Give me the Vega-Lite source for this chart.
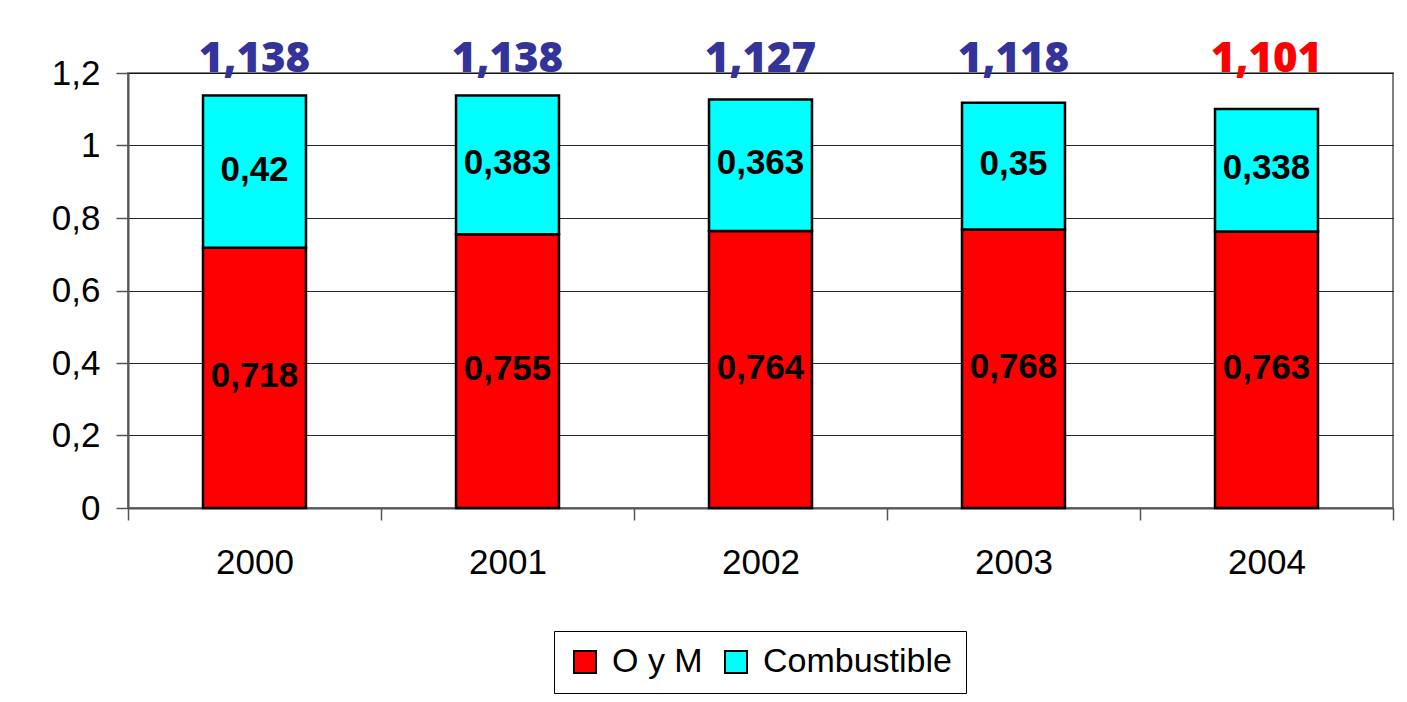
{
  "$schema": "https://vega.github.io/schema/vega-lite/v6.json",
  "width": 1265,
  "height": 435,
  "autosize": {"type": "none"},
  "padding": {"left": 128, "top": 73, "right": 14, "bottom": 194},
  "background": "white",
  "config": {
    "locale": {"number": {"decimal": ",", "thousands": ".", "grouping": [3], "currency": ["", " €"]}},
    "view": {"stroke": "#808080", "strokeWidth": 2},
    "font": "Liberation Sans"
  },
  "data": {
    "values": [
      {"year": "2000", "series": "O y M", "value": 0.718},
      {"year": "2000", "series": "Combustible", "value": 0.42},
      {"year": "2001", "series": "O y M", "value": 0.755},
      {"year": "2001", "series": "Combustible", "value": 0.383},
      {"year": "2002", "series": "O y M", "value": 0.764},
      {"year": "2002", "series": "Combustible", "value": 0.363},
      {"year": "2003", "series": "O y M", "value": 0.768},
      {"year": "2003", "series": "Combustible", "value": 0.35},
      {"year": "2004", "series": "O y M", "value": 0.763},
      {"year": "2004", "series": "Combustible", "value": 0.338}
    ]
  },
  "encoding": {
    "x": {
      "field": "year",
      "type": "ordinal",
      "scale": {"paddingInner": 0, "paddingOuter": 0},
      "axis": {
        "title": null,
        "labelAngle": 0,
        "labelFontSize": 35,
        "labelColor": "black",
        "labelFont": "Liberation Sans",
        "tickBand": "extent",
        "tickSize": 12,
        "tickColor": "#555555",
        "tickWidth": 1.5,
        "domainColor": "#555555",
        "domainWidth": 2,
        "labelPadding": 25
      }
    }
  },
  "layer": [
    {
      "mark": {"type": "bar", "stroke": "black", "strokeWidth": 2.5, "width": {"band": 0.407}},
      "encoding": {
        "y": {
          "field": "value",
          "type": "quantitative",
          "stack": "zero",
          "scale": {"domain": [0, 1.2], "nice": false},
          "axis": {
            "title": null,
            "values": [0, 0.2, 0.4, 0.6, 0.8, 1, 1.2],
            "format": "~g",
            "labelFontSize": 35,
            "labelColor": "black",
            "labelFont": "Liberation Sans",
            "tickSize": 12,
            "tickColor": "#555555",
            "tickWidth": 1.5,
            "domainColor": "#555555",
            "domainWidth": 2,
            "gridColor": "#000000",
            "gridWidth": 1,
            "gridOpacity": 0.85,
            "labelPadding": 16
          }
        },
        "color": {
          "field": "series",
          "type": "nominal",
          "scale": {"domain": ["O y M", "Combustible"], "range": ["#FF0000", "#00FFFF"]},
          "legend": {
            "title": null,
            "orient": "none",
            "legendX": 426,
            "legendY": 558,
            "direction": "horizontal",
            "symbolType": "square",
            "symbolSize": 484,
            "symbolStrokeColor": "black",
            "symbolStrokeWidth": 2,
            "symbolOpacity": 1,
            "labelFontSize": 34,
            "labelFont": "Liberation Sans",
            "labelColor": "black",
            "labelLimit": 500,
            "labelOffset": 10,
            "columnPadding": 16,
            "padding": 14,
            "strokeColor": "black",
            "fillColor": "white"
          }
        },
        "order": {"field": "series", "sort": "descending"}
      }
    },
    {
      "mark": {"type": "text", "fontSize": 35, "fontWeight": "bold", "font": "Liberation Sans", "color": "black", "baseline": "middle", "dy": -2},
      "encoding": {
        "y": {"field": "value", "type": "quantitative", "stack": "zero", "bandPosition": 0.5},
        "detail": {"field": "series"},
        "order": {"field": "series", "sort": "descending"},
        "text": {"field": "value", "type": "quantitative", "format": "~g"}
      }
    },
    {
      "transform": [
        {"aggregate": [{"op": "sum", "field": "value", "as": "total"}], "groupby": ["year"]}
      ],
      "mark": {"type": "text", "fontSize": 42, "fontWeight": 800, "font": "Open Sans", "baseline": "alphabetic", "dy": -1},
      "encoding": {
        "y": {"datum": 1.2},
        "text": {"field": "total", "type": "quantitative", "format": "~g"},
        "color": {
          "condition": {"test": "datum.year == '2004'", "value": "#FF0000"},
          "value": "#333399"
        }
      }
    }
  ]
}
